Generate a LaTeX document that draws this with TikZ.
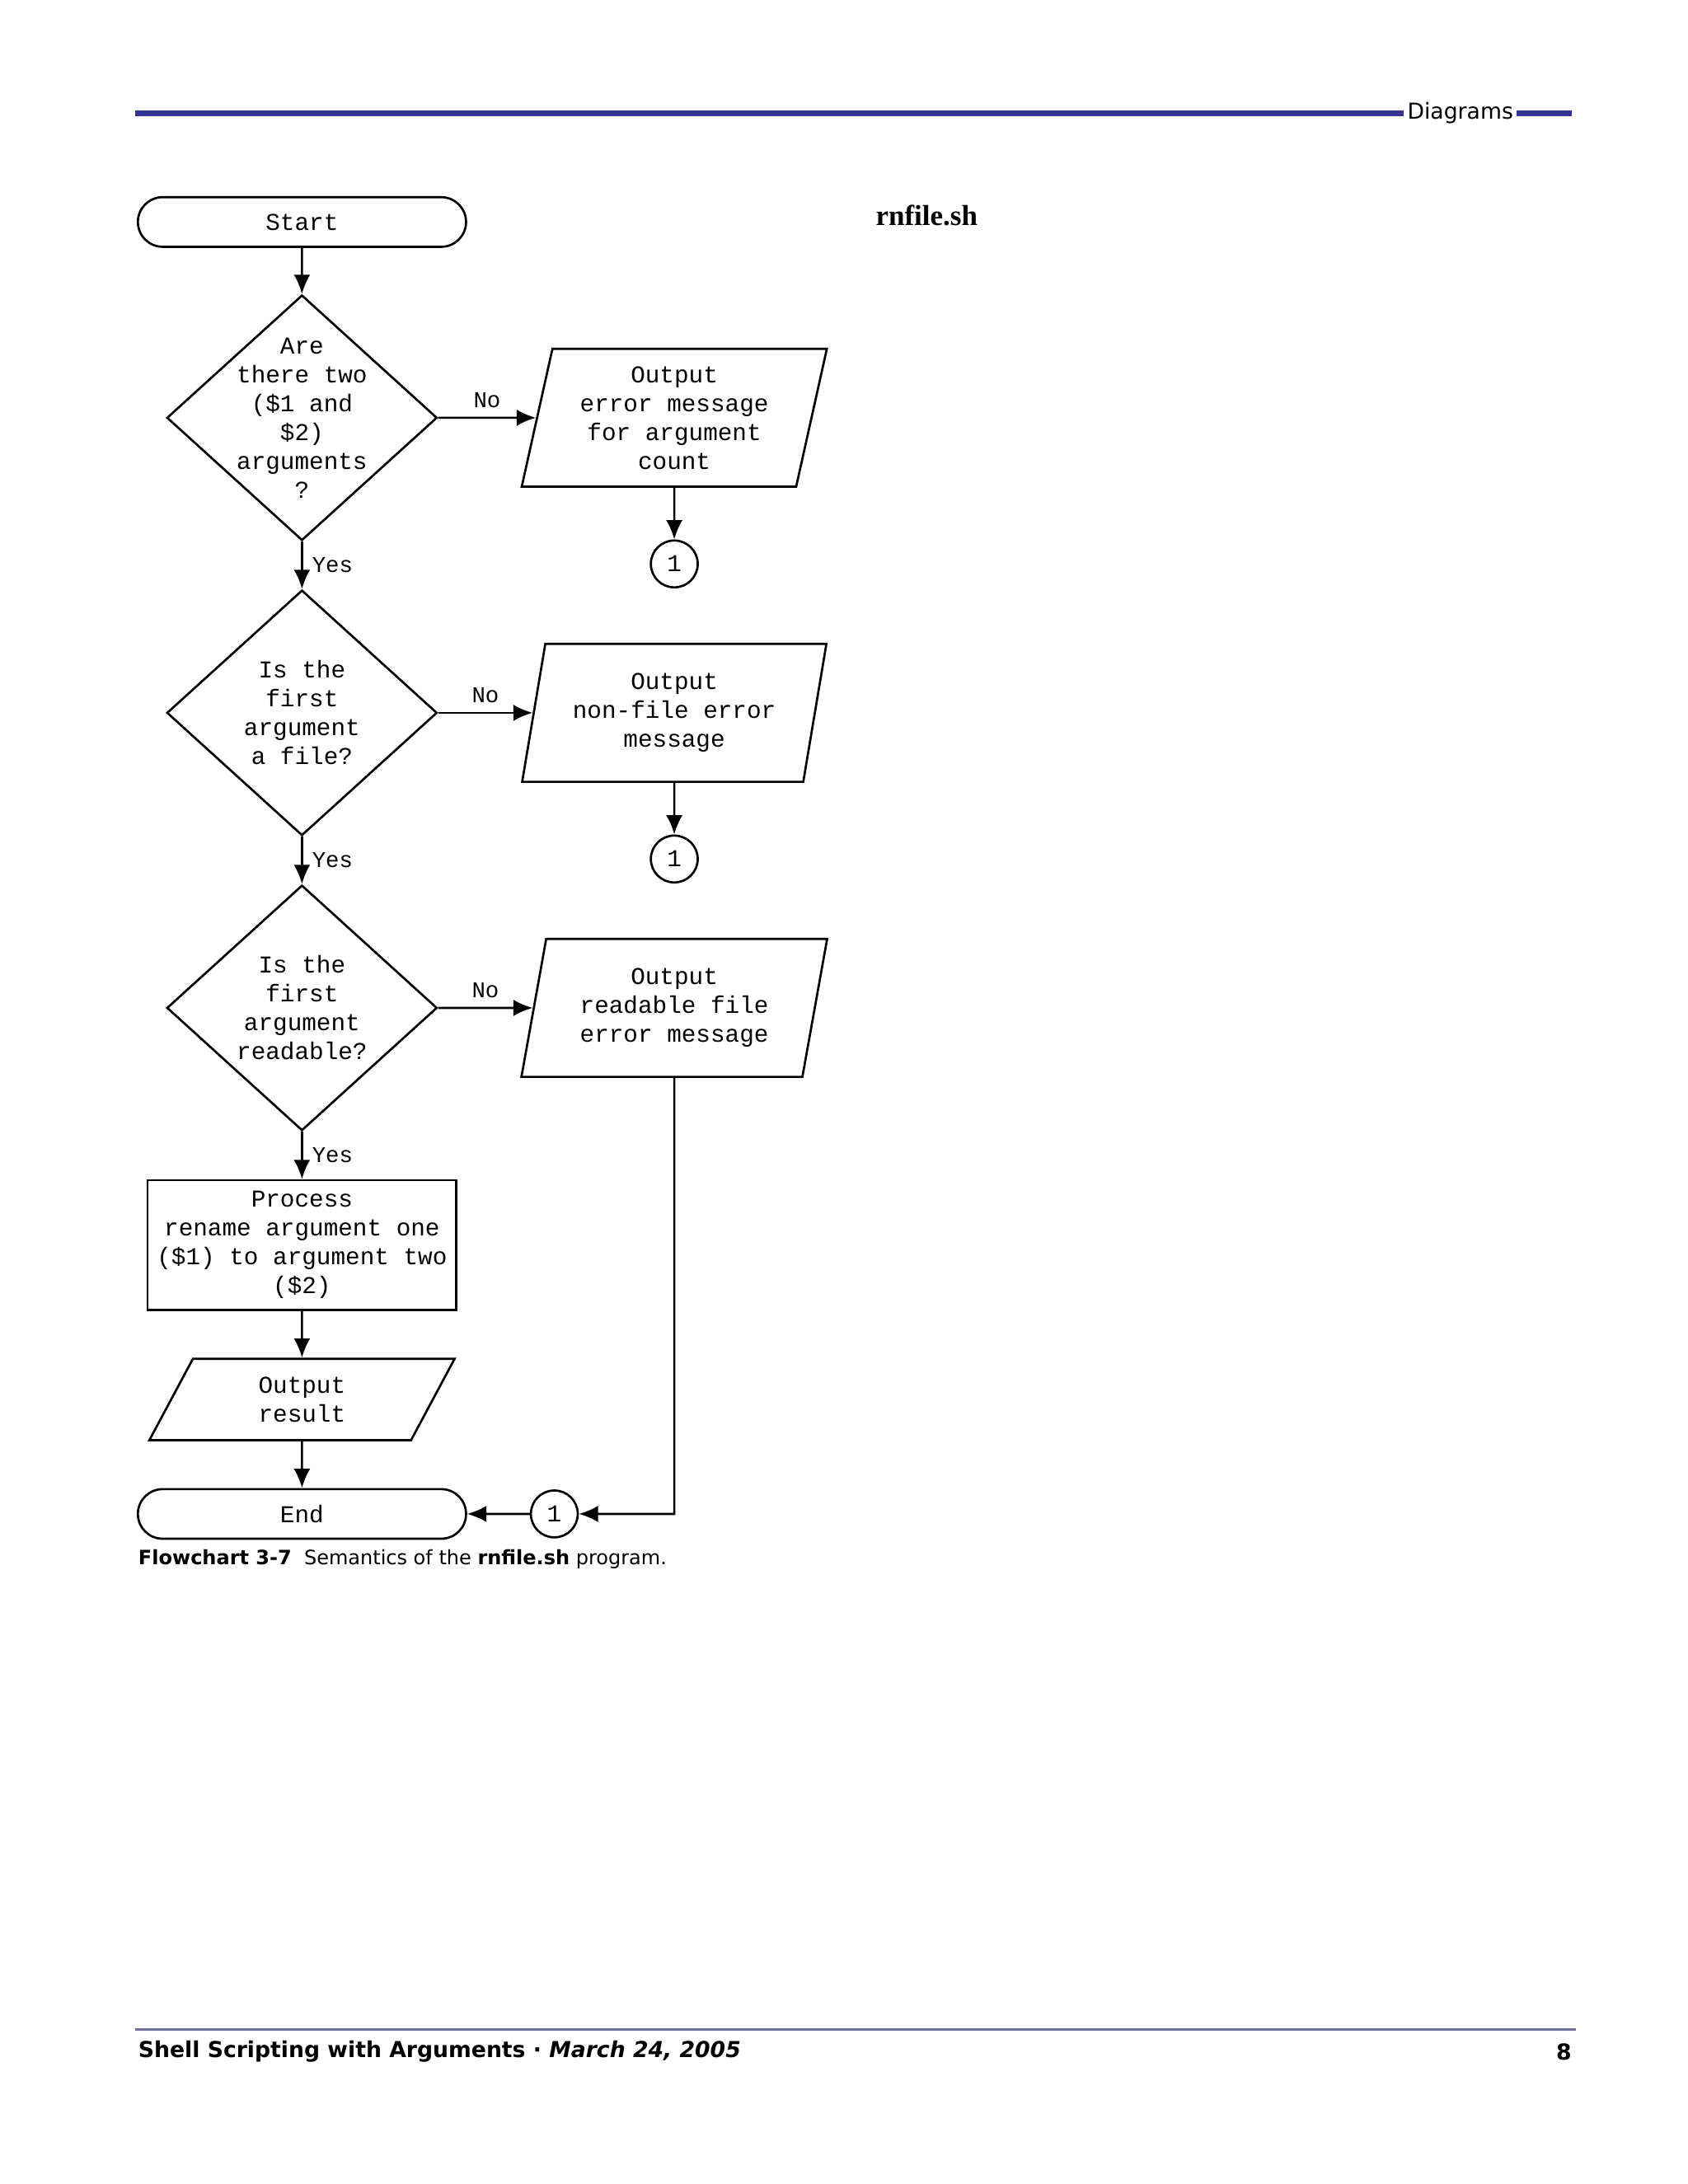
\documentclass[tikz,border=0pt]{standalone}
\usepackage{fontspec}
\setmainfont{Liberation Serif}
\setsansfont{DejaVu Sans}
\newfontfamily\codefont{Liberation Mono}
\usetikzlibrary{shapes.geometric,shapes.misc,arrows.meta}
\definecolor{rulecol}{RGB}{51,51,145}
\definecolor{footcol}{RGB}{110,110,160}
\begin{document}
\begin{tikzpicture}[x=0.01764cm,y=-0.01764cm,
    every node/.style={font=\codefont\fontsize{8.8}{10.5}\selectfont, align=center},
    terminal/.style={draw, thick, rounded rectangle, minimum width=238*0.01764cm, minimum height=36*0.01764cm, inner sep=0pt},
    decision/.style={draw, thick, diamond, minimum width=196*0.01764cm, minimum height=178*0.01764cm, inner sep=0pt},
    iobox/.style={draw, thick, trapezium, trapezium left angle=77, trapezium right angle=103, trapezium stretches=true, minimum width=222*0.01764cm, minimum height=100*0.01764cm, inner sep=0pt},
    procbox/.style={draw, thick, rectangle, minimum width=224*0.01764cm, minimum height=94*0.01764cm, inner sep=0pt},
    conn/.style={draw, thick, circle, minimum size=34*0.01764cm, inner sep=0pt},
    flow/.style={thick, -{Latex[length=7pt,width=6pt]}},
    lbl/.style={font=\codefont\fontsize{8.2}{10}\selectfont}]
  \useasboundingbox (0,0) rectangle (1224,1584);

  % page header and footer
  \fill[rulecol] (98,80) rectangle (1018,84);
  \fill[rulecol] (1100,80) rectangle (1140,84);
  \node[font=\sffamily\fontsize{8}{9}\selectfont, anchor=center, inner sep=0pt] (hdr) at (1059,82) {Diagrams};
  \draw[footcol, line width=0.7pt] (98,1472) -- (1143,1472);
  \node[font=\sffamily\bfseries\fontsize{8}{10}\selectfont, anchor=west, inner sep=0pt] (foot) at (100,1488) {Shell Scripting with Arguments \textperiodcentered{} \textit{March 24, 2005}};
  \node[font=\sffamily\bfseries\fontsize{8}{10}\selectfont, anchor=east, inner sep=0pt] (page) at (1140,1488) {8};
  \node[font=\rmfamily\bfseries\fontsize{10.5}{12}\selectfont] (title) at (672,156) {rnfile.sh};

  % flowchart
  \node[terminal] (start) at (219,161) {Start};
  \node[decision, label={center:Are\\there two\\(\$1 and\\\$2)\\arguments\\?}] (qargs) at (219,303) {};
  \node[iobox] (errcount) at (489,303) {Output\\error message\\for argument\\count};
  \node[conn] (c1) at (489,409) {1};
  \node[decision, label={center:Is the\\first\\argument\\a file?}] (qfile) at (219,517) {};
  \node[iobox] (errfile) at (489,517) {Output\\non-file error\\message};
  \node[conn] (c2) at (489,623) {1};
  \node[decision, label={center:Is the\\first\\argument\\readable?}] (qread) at (219,731) {};
  \node[iobox] (errread) at (489,731) {Output\\readable file\\error message};
  \node[procbox] (rename) at (219,903) {Process\\rename argument one\\(\$1) to argument two\\(\$2)};
  \node[iobox, trapezium left angle=69, trapezium right angle=111, minimum height=59*0.01764cm] (result) at (219,1015) {Output\\result};
  \node[terminal] (end) at (219,1098) {End};
  \node[conn] (c3) at (402,1098) {1};
  \coordinate (bend) at (489,1098);

  \draw[flow] (start) -- (qargs);
  \draw[flow] (qargs) -- node[lbl, above] {No} (errcount);
  \draw[flow] (errcount) -- (c1);
  \draw[flow] (qargs) -- node[lbl, right] {Yes} (qfile);
  \draw[flow] (qfile) -- node[lbl, above] {No} (errfile);
  \draw[flow] (errfile) -- (c2);
  \draw[flow] (qfile) -- node[lbl, right] {Yes} (qread);
  \draw[flow] (qread) -- node[lbl, above] {No} (errread);
  \draw[flow] (qread) -- node[lbl, right] {Yes} (rename);
  \draw[flow] (rename) -- (result);
  \draw[flow] (result) -- (end);
  \draw[flow] (errread.south) -- (bend) -- (c3);
  \draw[flow] (c3) -- (end);

  \node[font=\sffamily\fontsize{7.2}{9}\selectfont, anchor=west, inner sep=0pt] (caption) at (100,1131) {\textbf{Flowchart 3-7}\ \ Semantics of the \textbf{rnfile.sh} program.};
\end{tikzpicture}
\end{document}
